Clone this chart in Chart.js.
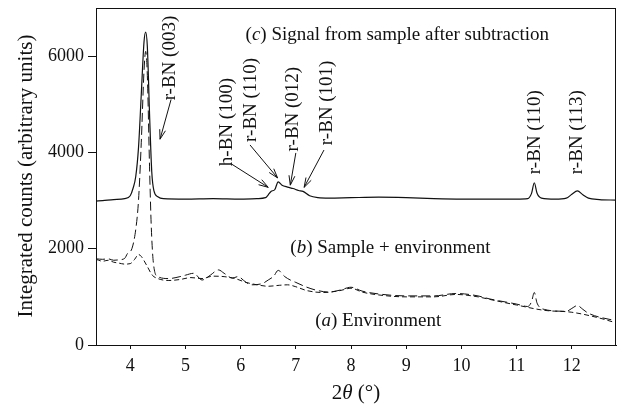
<!DOCTYPE html>
<html>
<head>
<meta charset="utf-8">
<script src="https://cdn.jsdelivr.net/npm/chart.js@4.4.1/dist/chart.umd.min.js"></script>
<style>
  html, body { margin: 0; padding: 0; background: #fff; }
  canvas { display: block; }
</style>
</head>
<body>
<canvas id="chart" width="617" height="405"></canvas>
<script>
// x-ray pattern, 2theta in degrees vs integrated counts

const xTicks = [4, 5, 6, 7, 8, 9, 10, 11, 12];
const yTicks = [0, 2000, 4000, 6000];

// (c) signal from sample after subtraction (offset by ~3000)
const cX = [3.38, 3.5, 3.7, 3.9, 4.0, 4.05, 4.1, 4.15, 4.2, 4.25, 4.28, 4.31, 4.35, 4.39, 4.43, 4.5, 4.6,
  5.0, 5.5, 6.0, 6.3, 6.45, 6.5, 6.55, 6.62, 6.68, 6.75, 6.85, 6.95, 7.05, 7.13, 7.25, 7.4, 7.6,
  8.0, 8.5, 9.0, 9.5, 10.0, 10.5, 11.0, 11.2, 11.27, 11.32, 11.37, 11.45, 11.7, 11.9, 12.0, 12.1,
  12.2, 12.3, 12.5, 12.8];
const cY = [2990, 3000, 3020, 3040, 3100, 3250, 3500, 4100, 5200, 6300, 6500, 6200, 4800, 3600, 3200, 3080, 3040,
  3030, 3040, 3030, 3040, 3060, 3120, 3190, 3230, 3390, 3320, 3280, 3250, 3210, 3190, 3100, 3060, 3050,
  3060, 3070, 3060, 3040, 3030, 3030, 3030, 3040, 3150, 3370, 3150, 3050, 3030, 3050, 3130, 3200,
  3120, 3050, 3020, 3010];

// (b) sample + environment
const bX = [3.38, 3.5, 3.6, 3.7, 3.8, 3.9, 3.95, 4.03, 4.1, 4.15, 4.2, 4.25, 4.28, 4.31, 4.35, 4.38, 4.42, 4.5,
  4.7, 4.9, 5.0, 5.15, 5.3, 5.45, 5.6, 5.7, 5.85, 5.95, 6.1, 6.2, 6.4, 6.5, 6.6, 6.68, 6.8, 6.9, 7.0,
  7.2, 7.4, 7.6, 7.8, 8.0, 8.2, 8.5, 9.0, 9.5, 9.9, 10.3, 10.5, 11.0, 11.2, 11.27, 11.32, 11.37, 11.5,
  11.9, 12.0, 12.1, 12.2, 12.3, 12.8];
const bY = [1790, 1780, 1790, 1760, 1770, 1800, 1900, 2000, 2400, 3000, 4200, 5700, 6100, 5600, 3700, 2500, 1700, 1420,
  1380, 1420, 1450, 1490, 1350, 1450, 1560, 1490, 1390, 1420, 1300, 1250, 1280, 1350, 1430, 1550, 1420, 1350, 1300,
  1200, 1130, 1100, 1140, 1200, 1120, 1060, 1020, 1020, 1070, 1020, 960, 850, 800, 900, 1090, 870, 740,
  700, 760, 820, 740, 660, 500];

// (a) environment
const aX = [3.38, 3.5, 3.6, 3.7, 3.8, 3.9, 4.0, 4.08, 4.15, 4.2, 4.3, 4.4, 4.5, 4.7, 4.9, 5.1, 5.3, 5.5, 5.7,
  5.9, 6.1, 6.3, 6.5, 6.7, 6.85, 7.0, 7.2, 7.5, 7.8, 8.0, 8.2, 8.5, 9.0, 9.5, 9.9, 10.3, 10.5, 11.0,
  11.5, 12.0, 12.5, 12.8];
const aY = [1780, 1740, 1760, 1720, 1700, 1680, 1690, 1780, 1880, 1840, 1650, 1450, 1380, 1340, 1360, 1400, 1380, 1430, 1420,
  1380, 1300, 1250, 1220, 1240, 1250, 1210, 1130, 1090, 1130, 1180, 1100, 1040, 1000, 1000, 1050, 1000, 950, 830,
  720, 680, 560, 460];

// peak labels (rotated) and arrows, in data units
const peakLabels = [
  { text: 'r-BN (003)', x: 4.72, y: 5960 },
  { text: 'h-BN (100)', x: 5.76, y: 4630 },
  { text: 'r-BN (110)', x: 6.19, y: 5090 },
  { text: 'r-BN (012)', x: 6.95, y: 4900 },
  { text: 'r-BN (101)', x: 7.57, y: 5030 },
  { text: 'r-BN (110)', x: 11.33, y: 4420 },
  { text: 'r-BN (113)', x: 12.09, y: 4420 }
];
const arrows = [
  { x0: 4.74, y0: 5100, x1: 4.54, y1: 4275 },
  { x0: 5.82, y0: 3770, x1: 6.5, y1: 3275 },
  { x0: 6.17, y0: 4155, x1: 6.67, y1: 3470 },
  { x0: 7.0, y0: 3990, x1: 6.9, y1: 3320 },
  { x0: 7.51, y0: 4050, x1: 7.15, y1: 3275 }
];
// curve captions: [plain, italic, plain] pieces
const captions = [
  { parts: ['(', 'c', ') Signal from sample after subtraction'], x: 6.09, y: 6440 },
  { parts: ['(', 'b', ') Sample + environment'], x: 6.9, y: 2015 },
  { parts: ['(', 'a', ') Environment'], x: 7.35, y: 500 }
];

const FONT = '"Liberation Serif", "DejaVu Serif", serif';
const INK = '#111';

function toPoints(xs, ys) {
  return xs.map((x, i) => ({ x: x, y: ys[i] }));
}

function drawParts(ctx, parts, x, y, size) {
  let cx = x;
  parts.forEach((p, i) => {
    ctx.font = (i % 2 === 1 ? 'italic ' : '') + size + 'px ' + FONT;
    ctx.fillText(p, cx, y);
    cx += ctx.measureText(p).width;
  });
  return cx;
}

function partsWidth(ctx, parts, size) {
  let w = 0;
  parts.forEach((p, i) => {
    ctx.font = (i % 2 === 1 ? 'italic ' : '') + size + 'px ' + FONT;
    w += ctx.measureText(p).width;
  });
  return w;
}

const decorPlugin = {
  id: 'decor',
  afterDraw(chart) {
    const ctx = chart.ctx;
    const area = chart.chartArea;
    const xs = chart.scales.x;
    const ys = chart.scales.y;
    ctx.save();

    // frame
    ctx.strokeStyle = INK;
    ctx.lineWidth = 1;
    ctx.strokeRect(Math.round(area.left) + 0.5, Math.round(area.top) + 0.5,
      Math.round(area.right - area.left) - 1, Math.round(area.bottom - area.top));

    ctx.fillStyle = INK;
    ctx.textBaseline = 'middle';
    ctx.textAlign = 'left';

    // captions
    captions.forEach(c => {
      drawParts(ctx, c.parts, xs.getPixelForValue(c.x), ys.getPixelForValue(c.y), 19);
    });

    // rotated peak labels
    ctx.font = '19px ' + FONT;
    ctx.textAlign = 'center';
    peakLabels.forEach(l => {
      ctx.save();
      ctx.translate(xs.getPixelForValue(l.x), ys.getPixelForValue(l.y));
      ctx.rotate(-Math.PI / 2);
      ctx.fillText(l.text, 0, 0);
      ctx.restore();
    });

    // arrows with open heads
    ctx.lineWidth = 1;
    arrows.forEach(a => {
      const x0 = xs.getPixelForValue(a.x0), y0 = ys.getPixelForValue(a.y0);
      const x1 = xs.getPixelForValue(a.x1), y1 = ys.getPixelForValue(a.y1);
      const ang = Math.atan2(y1 - y0, x1 - x0);
      ctx.beginPath();
      ctx.moveTo(x0, y0);
      ctx.lineTo(x1, y1);
      ctx.moveTo(x1 - 10 * Math.cos(ang - 0.3), y1 - 10 * Math.sin(ang - 0.3));
      ctx.lineTo(x1, y1);
      ctx.lineTo(x1 - 10 * Math.cos(ang + 0.3), y1 - 10 * Math.sin(ang + 0.3));
      ctx.stroke();
    });

    // x axis title, centred on the plot
    const xParts = ['2', '\u03b8', ' (\u00b0)'];
    const w = partsWidth(ctx, xParts, 21);
    ctx.textAlign = 'left';
    drawParts(ctx, xParts, (area.left + area.right) / 2 - w / 2, 393, 21);

    // y axis title
    ctx.save();
    ctx.font = '21px ' + FONT;
    ctx.textAlign = 'center';
    ctx.translate(26, 176);
    ctx.rotate(-Math.PI / 2);
    ctx.fillText('Integrated counts (arbitrary units)', 0, 0);
    ctx.restore();

    ctx.restore();
  }
};

const lineStyle = {
  pointRadius: 0,
  borderColor: INK,
  fill: false,
  cubicInterpolationMode: 'monotone'
};

new Chart(document.getElementById('chart'), {
  type: 'line',
  data: {
    datasets: [
      { ...lineStyle, label: 'Signal from sample after subtraction', data: toPoints(cX, cY), borderWidth: 1.2 },
      { ...lineStyle, label: 'Sample + environment', data: toPoints(bX, bY), borderWidth: 1, borderDash: [9, 4] },
      { ...lineStyle, label: 'Environment', data: toPoints(aX, aY), borderWidth: 1, borderDash: [5, 3] }
    ]
  },
  options: {
    responsive: false,
    animation: false,
    devicePixelRatio: 1,
    layout: { padding: { top: 8, right: 1, left: 0, bottom: 0 } },
    plugins: { legend: { display: false }, tooltip: { enabled: false } },
    scales: {
      x: {
        type: 'linear',
        min: 3.38,
        max: 12.8,
        afterBuildTicks: s => { s.ticks = xTicks.map(v => ({ value: v })); },
        afterFit: s => { s.height = 60; s.paddingLeft = 0; s.paddingRight = 0; },
        ticks: { color: INK, font: { family: FONT, size: 18 }, padding: 6, maxRotation: 0, callback: v => String(v) },
        grid: { drawOnChartArea: false, drawTicks: true, tickLength: 4, color: INK },
        border: { color: INK }
      },
      y: {
        min: 0,
        max: 7000,
        afterBuildTicks: s => { s.ticks = yTicks.map(v => ({ value: v })); },
        afterFit: s => { s.width = 96; s.paddingTop = 0; s.paddingBottom = 0; },
        ticks: { color: INK, font: { family: FONT, size: 18 }, padding: 4, callback: v => String(v) },
        grid: { drawOnChartArea: false, drawTicks: true, tickLength: 8, color: INK },
        border: { color: INK }
      }
    }
  },
  plugins: [decorPlugin]
});
</script>
</body>
</html>
